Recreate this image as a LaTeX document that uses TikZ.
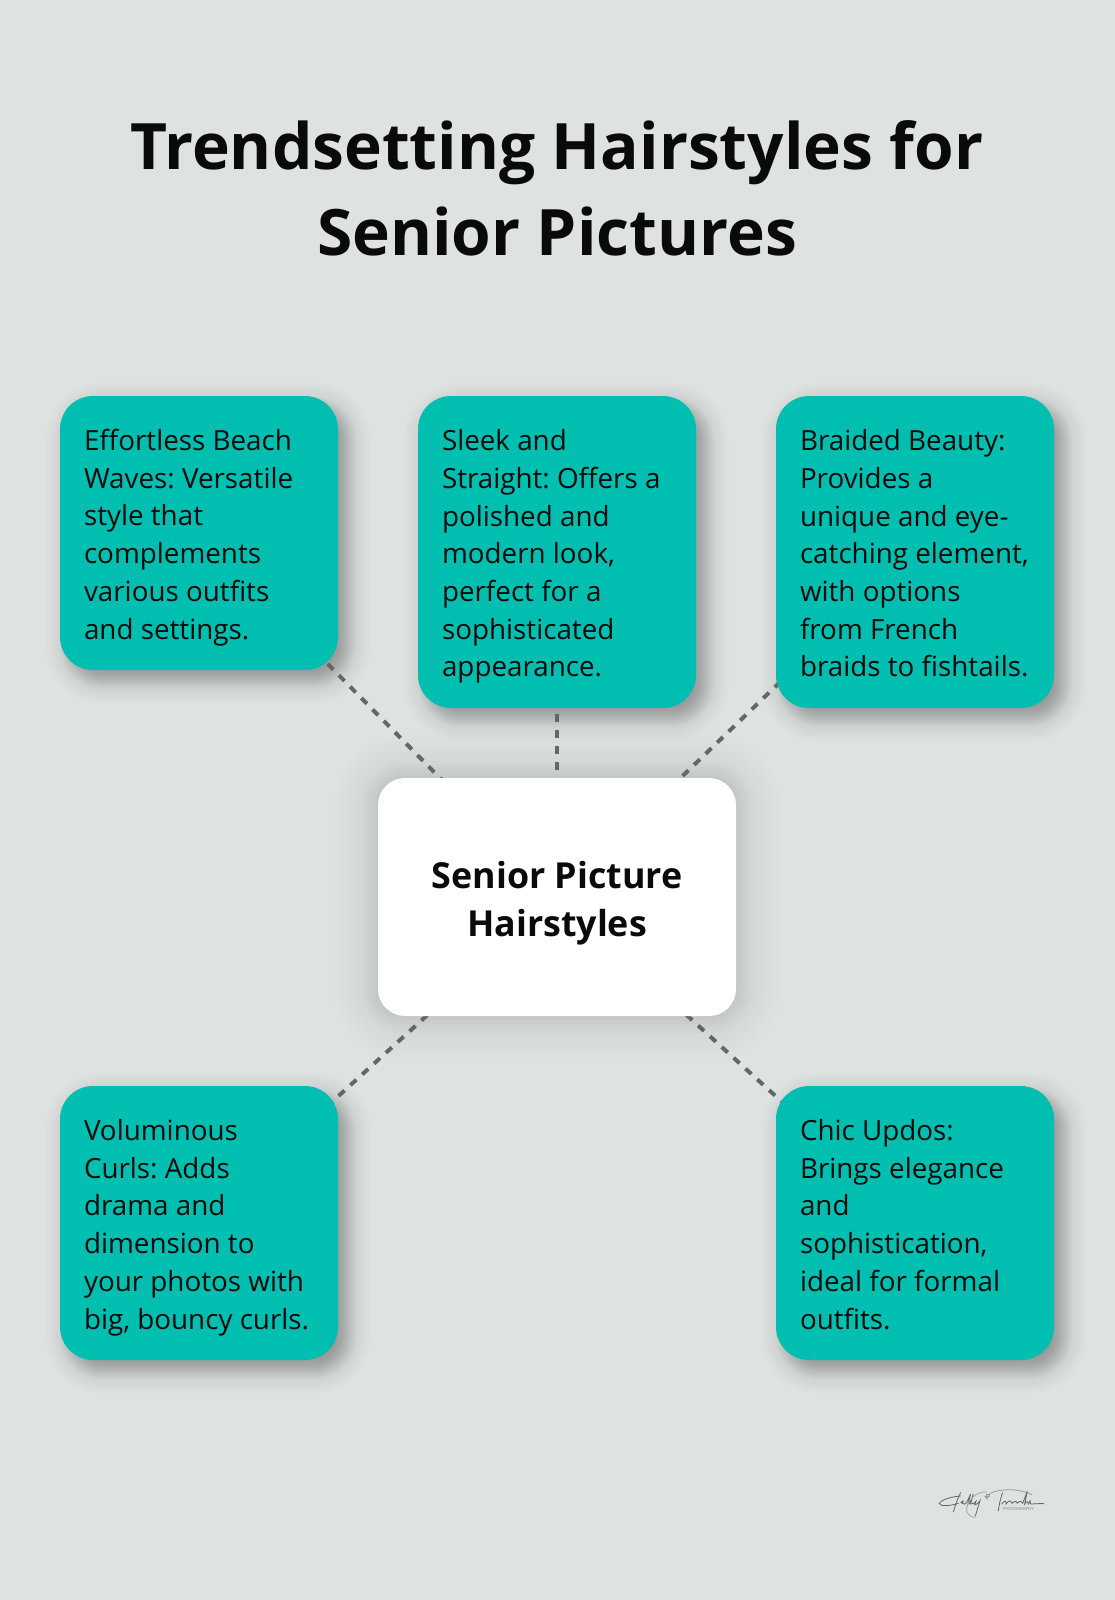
\documentclass[tikz,border=0pt]{standalone}
\usepackage{fontspec}
\setmainfont{Open Sans}
\frenchspacing
\usetikzlibrary{calc}
\definecolor{bgc}{HTML}{DEE2E1}
\definecolor{teal1}{HTML}{00BFB0}
\definecolor{dashc}{HTML}{666666}
\definecolor{ink}{HTML}{0A0A0A}
\pgfdeclarelayer{back}\pgfdeclarelayer{lines}
\pgfsetlayers{back,lines,main}
\newcommand{\shadowlayer}[7]{% x1 y1 x2 y2 radius opacity expansion
  \fill[black,opacity=#6,rounded corners={#5pt+(#7)*1pt}]
      ({#1-(#7)},{#2-(#7)}) rectangle ({#3+(#7)},{#4+(#7)});}
\newcommand{\tealshadow}[4]{%
  \foreach \ex in {24,23,...,10}{\shadowlayer{#1}{#2}{#3}{#4}{34}{0.0045}{\ex}}
  \foreach \ex in {9,8,...,0}{\shadowlayer{#1}{#2}{#3}{#4}{34}{0.011}{\ex}}
  \foreach \ex in {1,2,...,20}{\shadowlayer{#1}{#2}{#3}{#4}{34}{0.011}{-\ex}}
}
\newcommand{\hubshadow}[4]{%
  \foreach \ex in {45,42,...,21}{\shadowlayer{#1}{#2}{#3}{#4}{27}{0.005}{\ex}}
  \foreach \ex in {17,14,...,2}{\shadowlayer{#1}{#2}{#3}{#4}{27}{0.010}{\ex}}
}
\newcommand{\cardtext}[1]{\makebox[230pt][l]{\raisebox{-10.5pt}[0pt][0pt]{\begin{tabular}{@{}l@{}}#1\end{tabular}}}}
\newcommand{\hubtop}{\rule{0pt}{45.5pt}}
\newcommand{\hubend}{\rule[-14.5pt]{0pt}{14.5pt}}
\tikzset{
  x=1pt,y=-1pt,
  card/.style={fill=teal1,rounded corners=33pt,minimum width=278pt,inner sep=0pt,
     font=\fontsize{27.8pt}{37.7pt}\selectfont,text=ink},
  hub/.style={fill=white,rounded corners=27pt,minimum width=358pt,minimum height=238pt,inner sep=0pt,align=center,
     font=\fontsize{35.8pt}{48pt}\selectfont\bfseries,text=ink},
  title/.style={font=\fontsize{64pt}{86pt}\selectfont\bfseries,align=center,text=ink,inner sep=0pt},
  link/.style={draw=dashc,line width=4pt,dash pattern=on 8pt off 8pt,dash phase=#1},
  sig/.style={draw=#1,line width=0.8pt,line cap=round},
  sig/.default={black!60}
}
\begin{document}
\begin{tikzpicture}
\useasboundingbox (0,0) rectangle (1114,1600);
\begin{pgfonlayer}{back}
  \fill[bgc] (-3,-3) rectangle (1117,1603);
  \tealshadow{69}{406}{347}{680}
  \tealshadow{427}{406}{705}{718}
  \tealshadow{785}{406}{1063}{718}
  \tealshadow{69}{1096}{347}{1370}
  \tealshadow{785}{1096}{1063}{1370}
  \hubshadow{378}{778}{736}{1016}
\end{pgfonlayer}
\node[title] (head) at (557,188) {Trendsetting Hairstyles for\\Senior Pictures};
\node[card,minimum height=274pt] (c1) at (199,533) {\cardtext{Effortless Beach\\Waves: Versatile\\style that\\complements\\various outfits\\and settings.}};
\node[card,minimum height=312pt] (c2) at (557,552) {\cardtext{Sleek and\\Straight: Offers a\\polished and\\modern look,\\perfect for a\\sophisticated\\appearance.}};
\node[card,minimum height=312pt] (c3) at (915,552) {\cardtext{Braided Beauty:\\Provides a\\unique and eye-\\catching element,\\with options\\from French\\braids to fishtails.}};
\node[card,minimum height=274pt] (c4) at (199,1223) {\cardtext{Voluminous\\Curls: Adds\\drama and\\dimension to\\your photos with\\big, bouncy curls.}};
\node[card,minimum height=274pt] (c5) at (915,1223) {\cardtext{Chic Updos:\\Brings elegance\\and\\sophistication,\\ideal for formal\\outfits.}};
\node[hub] (h) at (557,897) {\hubtop Senior Picture\\Hairstyles\hubend};
\begin{pgfonlayer}{lines}
  \draw[link=8.5pt] (c1.center) -- (h.center);
  \draw[link=14pt] (c2.center) -- (h.center);
  \draw[link=5.3pt] (c3.center) -- (h.center);
  \draw[link=3.2pt] (c4.center) -- (h.center);
  \draw[link=2.7pt] (c5.center) -- (h.center);
\end{pgfonlayer}
% signature
\begin{scope}[x=0.33333pt,y=-0.33333pt,shift={(2790,4440)}]
  \draw[sig] (92,48) .. controls (60,50) and (30,62) .. (28,70) .. controls (30,80) and (60,78) .. (85,70);
  \draw[sig] (70,96) .. controls (76,76) and (84,52) .. (92,38);
  \draw[sig] (92,68) .. controls (100,60) and (104,62) .. (96,70) .. controls (102,76) and (108,72) .. (112,64) -- (122,42) -- (114,72) .. controls (118,74) and (122,66) .. (130,42) -- (122,72) .. controls (128,74) and (134,68) .. (138,64) -- (134,74) .. controls (138,76) and (144,70) .. (150,62) -- (136,108);
  \draw[sig=black!35] (136,112) .. controls (112,112) and (100,90) .. (120,62) .. controls (132,44) and (150,34) .. (170,36);
  \draw[sig=black!50] (172,58) .. controls (164,48) and (170,40) .. (178,44) .. controls (180,52) and (170,54) .. (164,50);
  \draw[sig=black!40] (180,40) .. controls (205,28) and (260,22) .. (306,44);
  \draw[sig] (205,92) .. controls (208,72) and (212,52) .. (218,38);
  \draw[sig] (215,72) .. controls (224,60) and (230,62) .. (228,72) .. controls (236,62) and (242,58) .. (246,70) .. controls (252,64) and (258,60) .. (262,70) .. controls (268,62) and (274,62) .. (278,70) -- (292,34) -- (284,72) .. controls (290,62) and (292,64) .. (296,72) -- (300,62) -- (302,72) .. controls (314,72) and (326,70) .. (342,71);
  \node[inner sep=0pt,text=black!50,font=\fontsize{4.2pt}{4.2pt}\selectfont] (sigtext) at (265,88) {PHOTOGRAPHY};
\end{scope}
\end{tikzpicture}
\end{document}
